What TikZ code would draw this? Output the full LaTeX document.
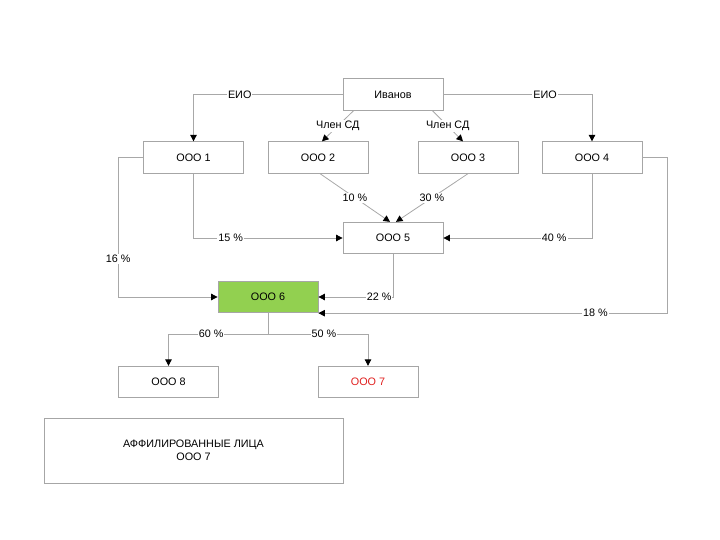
\documentclass[tikz,border=0pt]{standalone}
\usepackage{fontspec}
\setmainfont{Liberation Sans}
\usetikzlibrary{arrows.meta,calc}
\definecolor{boxgray}{HTML}{A6A6A6}
\definecolor{linegray}{HTML}{A8A8A8}
\definecolor{okgreen}{HTML}{92D050}
\definecolor{okred}{HTML}{E0201F}
\tikzset{
  orgbox/.style={draw=boxgray, line width=0.8pt, minimum width=100pt, minimum height=31.5pt, inner sep=0pt, font=\fontsize{10.8}{13}\selectfont},
  conn/.style={draw=linegray, line width=0.8pt},
  arr/.style={-{Triangle[color=black,length=6.5pt,width=6.5pt]}},
  lbl/.style={fill=white, inner sep=1pt, font=\fontsize{10.8}{13}\selectfont}
}
\begin{document}
\begin{tikzpicture}[x=1pt,y=-1pt]
\useasboundingbox (0,0) rectangle (720,540);
\node[orgbox] (iv) at (393,94.5) {Иванов};
\node[orgbox] (o1) at (193.5,157.5) {ООО 1};
\node[orgbox] (o2) at (318,157.5) {ООО 2};
\node[orgbox] (o3) at (468,157.5) {ООО 3};
\node[orgbox] (o4) at (592,157.5) {ООО 4};
\node[orgbox] (o5) at (393,238) {ООО 5};
\node[orgbox, fill=okgreen] (o6) at (268,297) {ООО 6};
\node[orgbox] (o8) at (168.5,382) {ООО 8};
\node[orgbox, text=okred] (o7) at (368,382) {ООО 7};
\node[orgbox, minimum width=299pt, minimum height=65pt, align=center] (aff) at (193.5,450.5) {АФФИЛИРОВАННЫЕ ЛИЦА\\ООО 7};

\draw[conn,arr] (iv.west) -| node[lbl,pos=0.345] {ЕИО} (o1.north);
\draw[conn,arr] (iv.east) -| node[lbl,pos=0.342] {ЕИО} (o4.north);
\draw[conn,arr] ($(iv.south west)+(11,0)$) -- node[lbl] {Член СД} ($(o2.north)+(4,0)$);
\draw[conn,arr] ($(iv.south east)+(-11,0)$) -- node[lbl] {Член СД} ($(o3.north)+(-5,0)$);
\draw[conn,arr] ($(o2.south)+(2,0)$) -- node[lbl] {10 \%} ($(o5.north)+(-3,0)$);
\draw[conn,arr] ($(o3.south)+(0,0)$) -- node[lbl] {30 \%} ($(o5.north)+(3,0)$);
\draw[conn,arr] (o1.south) |- node[lbl,pos=0.625] {15 \%} (o5.west);
\draw[conn,arr] (o4.south) |- node[lbl,pos=0.627] {40 \%} (o5.east);
\draw[conn,arr] (o1.west) -- ++(-25,0) |- node[lbl,pos=0.364] {16 \%} (o6.west);
\draw[conn,arr] (o5.south) |- node[lbl,pos=0.593] {22 \%} (o6.east);
\draw[conn,arr] (o4.east) -- ++(25,0) |- node[lbl,pos=0.603] {18 \%} (o6.south east);
\draw[conn] (o6.south) -- ++(0,21) coordinate (c6);
\draw[conn,arr] (c6) -| node[lbl,pos=0.286] {60 \%} (o8.north);
\draw[conn,arr] (c6) -| node[lbl,pos=0.28] {50 \%} (o7.north);
\end{tikzpicture}
\end{document}
